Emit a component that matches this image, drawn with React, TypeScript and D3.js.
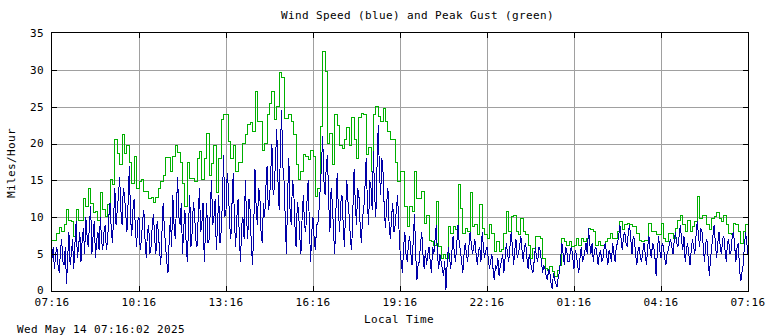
import React from "react";
import * as d3 from "d3";

// wind speed, 5-minute readings from 07:16
const windSpeed = [
  4.5, 3, 6, 2.5, 7, 3.5, 1, 8, 5, 3, 9.5, 6, 4, 8.5, 10, 6, 11.5, 7.5, 4.5, 8,
  10, 5.5, 9, 7, 12, 6.5, 14, 11, 15.5, 9, 13, 8, 17, 7.5, 12.5, 6, 10, 7, 11, 4.5,
  9, 6, 10.5, 5, 8, 3.5, 12, 6, 2.5, 10, 13, 7, 15.5, 9, 5, 11, 4, 13, 8, 10.5,
  6, 14, 9, 4, 12, 7, 15, 10, 5.5, 13, 8, 18.5, 11, 14, 7, 16, 6, 12.5, 4, 10,
  15, 7, 11, 3.5, 16.5, 9, 13, 6.5, 10, 17, 12, 20, 14, 22, 11, 24.5, 15, 5, 18, 9,
  14, 6, 11, 5, 13, 8, 15, 4, 10, 5.5, 9, 14, 21, 13, 18.5, 8, 12, 5, 16, 8,
  13, 6, 15, 10, 5.5, 16.5, 9, 13, 6.5, 11, 18, 9, 14, 19, 10, 22.5, 13, 16, 8.5, 14,
  7, 12, 9, 13, 5.5, 2.5, 8, 4, 7.5, 3.5, 10.5, 1.5, 4, 8, 3, 3.5, 6, 2.5, 5, 9,
  3, 4, 2, 0.2, 6, 3, 7.5, 4, 9, 5.5, 2.5, 6.5, 4, 8, 5, 7, 3.5, 6, 8, 4.5,
  6, 3, 5, 1.5, 3, 2, 4, 2.5, 6.5, 4, 8, 3.5, 7, 5, 7.5, 4, 6.5, 3, 4, 2.5,
  6, 4, 5.5, 2.5, 3, 1.5, 2.5, 0.3, 1.5, 0.5, 2.5, 6.5, 3.5, 5.5, 4, 6, 3, 5, 2.5, 6,
  4.5, 6.5, 8.5, 5, 4, 6, 3.5, 5.5, 4.5, 6.5, 3.5, 5, 6.5, 4, 6.5, 9, 5.5, 8, 6, 9,
  5, 7, 3.5, 6, 4, 6.5, 3.5, 7.5, 4.5, 6, 2, 7.5, 4.5, 6, 3.5, 5.5, 7, 5, 8, 6,
  9, 5.5, 4, 6.5, 3.5, 7, 5, 9.5, 6, 8, 4, 7, 2, 6, 9, 4.5, 8, 5, 7.5, 4,
  7, 5.5, 8, 4, 6.5, 1.3, 3.5, 8, 5,
];

// wind speed readings taken half-way between the ones above
const windSpeedHalf = [
  6, 5, 3.5, 5.5, 4, 6, 4.5, 3.5, 7, 6.5, 4.5, 8, 7, 5, 7.5, 9, 5, 9.5, 7, 5.5,
  7, 8, 5.5, 10, 8.5, 10, 9, 13, 11, 14, 10.5, 12, 10, 11, 8.5, 9.5, 5.5, 9.5, 7, 8,
  5, 9, 7, 9.5, 5.5, 8, 8.5, 4, 7, 6, 9, 11.5, 10, 12, 8.5, 6.5, 9, 6, 12, 7,
  10, 8, 12, 8, 6.5, 11, 9, 12.5, 9, 6.5, 12, 10, 16, 9, 12, 9.5, 10, 7.5, 9, 7,
  10, 12.5, 6, 9, 11, 14, 8, 12, 14, 11, 16, 13, 18, 15, 19, 17, 10, 13, 11, 15,
  9, 12, 7.5, 10, 9, 12, 9, 8, 7, 9, 11, 17, 15, 17, 12, 14, 8, 11, 11, 12,
  9, 11, 12, 7, 11, 12, 14, 9, 10, 14, 12, 15, 11, 13, 17, 16, 18, 11, 12, 9,
  10, 8, 11, 9, 4, 6, 5, 6.5, 5, 7, 5, 3.5, 6.5, 5, 5.5, 5, 4, 6, 7, 5,
  5, 3, 4, 3.5, 4.5, 5.5, 5, 6.5, 6.5, 4, 5, 5, 6, 6.5, 6, 5, 5.5, 4, 6, 5.5,
  4.5, 4, 3, 3.5, 4.5, 3.5, 5, 4.5, 5, 6, 6, 5.5, 4.5, 6, 5.5, 6, 4.5, 5, 3, 4,
  4.5, 6, 4, 3.5, 2, 3, 1, 2.5, 1, 2, 4.5, 5, 6, 4, 5.5, 4.5, 5.5, 3.5, 4.5, 4,
  5.5, 5, 6.5, 6.5, 5.5, 5, 5, 4, 6, 5, 5.5, 4, 5, 6, 7.5, 7, 7.5, 6.5, 8, 7,
  7.5, 5, 5.5, 4.5, 5.5, 5, 6, 5.5, 6.5, 4.5, 5.5, 5.5, 6.5, 4.5, 5, 6.5, 6, 7, 6.5, 7.5,
  7, 7.5, 5.5, 5, 5.5, 6, 7.5, 7.5, 8.5, 6, 6.5, 4.5, 4.5, 7.5, 6.5, 6.5, 6, 7, 5.5, 6.5,
  5, 7.5, 6, 6, 3, 2.5, 6, 6.5,
];

// peak gust, 5-minute values from 07:16
const peakGust = [
  6.8, 6.8, 7.8, 8.6, 8.1, 9.0, 11.0, 9.6, 9.4, 7.4, 11.0, 9.6, 9.6, 12.6, 11.4, 13.9, 11.9, 10.7, 10.8, 9.6,
  13.3, 11.0, 10.1, 11.7, 15.1, 14.4, 20.5, 18.7, 17.1, 21.2, 18.7, 19.8, 17.5, 14.6, 18.2, 13.9, 14.8, 15.1, 13.5, 13.5,
  12.6, 12.7, 12.0, 12.7, 13.9, 14.8, 15.7, 18.1, 18.1, 16.2, 18.2, 19.8, 18.8, 17.5, 14.6, 11.4, 17.5, 15.3, 15.2, 14.9,
  18.0, 18.9, 15.1, 18.0, 21.3, 15.7, 17.3, 19.8, 13.3, 18.0, 23.2, 23.9, 24.0, 20.3, 18.0, 19.7, 16.2, 17.5, 17.5, 20.0,
  21.2, 22.6, 22.9, 21.7, 27.0, 23.0, 23.0, 19.1, 20.0, 24.0, 25.5, 27.0, 23.2, 25.0, 29.6, 28.9, 23.4, 23.4, 24.0, 23.0,
  21.2, 17.1, 15.1, 16.2, 18.5, 18.2, 17.8, 19.1, 18.2, 12.8, 13.9, 22.3, 32.5, 29.8, 20.0, 21.3, 17.1, 24.0, 22.5, 19.8,
  19.3, 20.5, 22.2, 19.8, 23.5, 20.5, 18.0, 23.5, 24.1, 24.0, 18.5, 19.4, 16.2, 23.9, 25.0, 23.7, 23.0, 24.7, 23.0, 21.7,
  20.5, 20.5, 17.5, 14.8, 16.2, 16.2, 11.4, 8.7, 11.4, 10.8, 16.2, 12.6, 12.6, 13.5, 9.2, 10.3, 6.9, 6.7, 6.2, 12.1,
  6.0, 4.4, 4.9, 4.4, 8.7, 7.8, 8.7, 8.3, 14.4, 11.2, 7.8, 8.5, 8.1, 13.3, 8.7, 9.0, 7.6, 11.7, 8.5, 7.6,
  7.1, 9.0, 7.8, 5.3, 6.7, 5.3, 5.6, 7.8, 10.8, 8.1, 10.1, 10.3, 8.1, 7.7, 9.9, 8.1, 7.6, 6.2, 4.4, 5.8,
  7.4, 7.4, 7.1, 4.4, 3.1, 2.8, 3.3, 2.6, 1.9, 2.8, 3.5, 7.1, 6.7, 6.2, 6.7, 6.0, 6.2, 7.1, 6.2, 7.1,
  6.7, 7.1, 8.5, 8.3, 8.1, 6.2, 6.7, 6.2, 6.2, 6.7, 7.1, 7.8, 7.1, 7.1, 8.1, 9.4, 8.3, 9.0, 9.2, 9.0,
  8.7, 8.7, 7.8, 6.9, 6.7, 6.9, 6.9, 9.2, 8.1, 8.1, 7.6, 7.6, 9.2, 7.1, 6.7, 7.8, 7.8, 7.1, 8.5, 9.6,
  10.3, 9.0, 8.1, 9.6, 8.1, 8.7, 9.4, 12.8, 9.9, 10.3, 10.3, 9.0, 8.3, 9.9, 10.1, 10.7, 9.9, 9.4, 10.2, 9.0,
  7.8, 7.6, 9.2, 9.0, 8.1, 6.5, 8.1, 9.0, 8.1,
];

const timeLabels = ["07:16", "10:16", "13:16", "16:16", "19:16", "22:16", "01:16", "04:16", "07:16"];
const mphTicks = [0, 5, 10, 15, 20, 25, 30, 35];
const STEP_MIN = 5;

const W = 768;
const H = 336;
const left = 52;
const right = 748;
const top = 33;
const bottom = 291;
const font = "'DejaVu Sans Mono', monospace";

const App: React.FC = () => {
  const x = d3.scaleLinear().domain([0, 24 * 60]).range([left, right]);
  const y = d3.scaleLinear().domain([0, 35]).range([bottom, top]);
  const xTicks = timeLabels.map((_, i) => i * 180);

  // merge both speed readings into one 2.5-minute series
  const speed: [number, number][] = [];
  windSpeed.forEach((v, i) => {
    speed.push([i * STEP_MIN, v]);
    if (i < windSpeedHalf.length) speed.push([i * STEP_MIN + STEP_MIN / 2, windSpeedHalf[i]]);
  });

  const speedLine = d3
    .line<[number, number]>()
    .x((d) => x(d[0]))
    .y((d) => y(d[1]));

  const gustLine = d3
    .line<number>()
    .x((_, i) => x(i * STEP_MIN))
    .y((d) => y(d))
    .curve(d3.curveStepAfter);

  const px = (v: number) => Math.round(v) + 0.5;

  return (
    <div style={{ position: "absolute", left: 0, top: 0 }}>
      <svg width={W} height={H} style={{ display: "block", background: "#fff" }}>
        {/* grid */}
        <g stroke="#a0a0a0" strokeWidth={1}>
          {mphTicks.slice(1, -1).map((v) => (
            <line key={"h" + v} x1={left} x2={right} y1={px(y(v))} y2={px(y(v))} />
          ))}
          {xTicks.slice(1, -1).map((t) => (
            <line key={"v" + t} x1={px(x(t))} x2={px(x(t))} y1={top} y2={bottom} />
          ))}
        </g>

        <path d={gustLine(peakGust) || ""} fill="none" stroke="#00b000" strokeWidth={1} shapeRendering="crispEdges" />
        <path d={speedLine(speed) || ""} fill="none" stroke="#0000a8" strokeWidth={1} shapeRendering="crispEdges" />

        {/* frame and ticks */}
        <rect x={left - 0.5} y={top - 0.5} width={right - left + 1} height={bottom - top + 1} fill="none" stroke="#000" />
        <g stroke="#000">
          {xTicks.slice(1, -1).map((t) => (
            <g key={"t" + t}>
              <line x1={px(x(t))} x2={px(x(t))} y1={top} y2={top + 5} />
              <line x1={px(x(t))} x2={px(x(t))} y1={bottom - 5} y2={bottom} />
            </g>
          ))}
          {mphTicks.slice(1, -1).map((v) => (
            <g key={"m" + v}>
              <line x1={left} x2={left + 5} y1={px(y(v))} y2={px(y(v))} />
              <line x1={right - 5} x2={right} y1={px(y(v))} y2={px(y(v))} />
            </g>
          ))}
        </g>

        <g fontFamily={font} fontSize={11} letterSpacing={0.38} fill="#000">
          {mphTicks.map((v) => (
            <text key={"yl" + v} x={44} y={v === 0 ? y(v) - 1 : y(v)} dy="0.35em" textAnchor="end">
              {v}
            </text>
          ))}
          {xTicks.map((t, i) => (
            <text key={"xl" + t} x={x(t)} y={306} textAnchor="middle">
              {timeLabels[i]}
            </text>
          ))}
          <text x={281} y={19}>Wind Speed (blue) and Peak Gust (green)</text>
          <text x={399} y={323} textAnchor="middle">Local Time</text>
          <text transform="translate(15,163) rotate(-90)" textAnchor="middle">Miles/Hour</text>
          <text x={17} y={333}>Wed May 14 07:16:02 2025</text>
        </g>
      </svg>
    </div>
  );
};

export default App;
